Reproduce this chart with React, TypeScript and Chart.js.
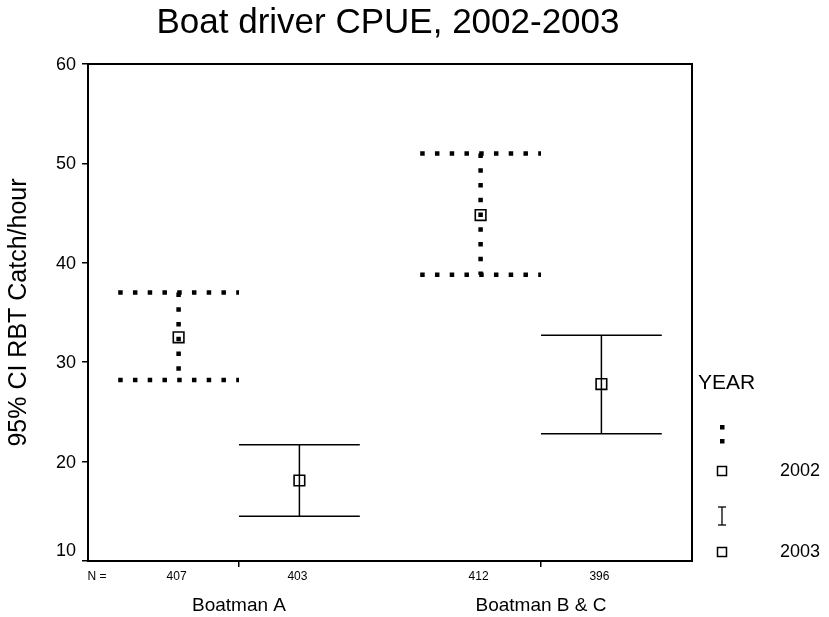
import React, { useEffect, useRef } from "react";
import { Chart, registerables } from "chart.js";
Chart.register(...registerables);

const titleText = "Boat driver CPUE, 2002-2003";
const yAxisTitle = "95% CI RBT Catch/hour";
const legendTitle = "YEAR";
const groups = ["Boatman A", "Boatman B & C"];
const groupCenters = [1, 3];
const years = ["2002", "2003"];
const barYear = [0, 1, 0, 1];
const xPositions = [0.6, 1.4, 2.6, 3.4];
const nCounts = [407, 403, 412, 396];
const means = [32.5, 18.1, 44.8, 27.8];
const lows = [28.2, 14.5, 38.8, 22.8];
const highs = [37.0, 21.7, 51.0, 32.7];
const capHalf = 0.4;
const yMin = 10;
const yMax = 60;
const yStep = 10;

const FONT = "'Liberation Sans', Arial, sans-serif";

function setStyle(ctx: CanvasRenderingContext2D, yearIdx: number) {
  if (yearIdx === 0) {
    ctx.setLineDash([4.5, 10.25]);
    ctx.lineWidth = 4.5;
  } else {
    ctx.setLineDash([]);
    ctx.lineWidth = 1.5;
  }
  ctx.lineCap = "butt";
  ctx.strokeStyle = "#000";
}

function seg(ctx: CanvasRenderingContext2D, x1: number, y1: number, x2: number, y2: number) {
  ctx.beginPath();
  ctx.moveTo(x1, y1);
  ctx.lineTo(x2, y2);
  ctx.stroke();
}

const decorPlugin = {
  id: "decor",
  beforeDatasetsDraw(chart: any) {
    const ctx: CanvasRenderingContext2D = chart.ctx;
    const xs = chart.scales.x;
    const ys = chart.scales.y;
    ctx.save();
    for (let i = 0; i < xPositions.length; i++) {
      const px = xs.getPixelForValue(xPositions[i]);
      const l = xs.getPixelForValue(xPositions[i] - capHalf);
      const r = xs.getPixelForValue(xPositions[i] + capHalf);
      const yh = ys.getPixelForValue(highs[i]);
      const yl = ys.getPixelForValue(lows[i]);
      setStyle(ctx, barYear[i]);
      seg(ctx, l, yh, r, yh);
      seg(ctx, l, yl, r, yl);
      seg(ctx, px, yh, px, yl);
    }
    ctx.restore();
  },
  afterDraw(chart: any) {
    const ctx: CanvasRenderingContext2D = chart.ctx;
    const a = chart.chartArea;
    const xs = chart.scales.x;
    const ys = chart.scales.y;
    ctx.save();
    // plot frame
    ctx.strokeStyle = "#000";
    ctx.lineWidth = 2;
    ctx.setLineDash([]);
    ctx.strokeRect(a.left, a.top, a.right - a.left, a.bottom - a.top);
    ctx.fillStyle = "#000";
    // y tick labels (lowest one lifted above the axis corner)
    ctx.font = `18px ${FONT}`;
    ctx.textAlign = "right";
    ctx.textBaseline = "middle";
    for (let v = yMin; v <= yMax; v += yStep) {
      const py = ys.getPixelForValue(v) + (v === yMin ? -10 : 1);
      ctx.fillText(String(v), a.left - 12, py);
    }
    // title
    ctx.font = `35px ${FONT}`;
    ctx.textAlign = "center";
    ctx.fillText(titleText, 388, 23);
    // N labels
    ctx.font = `12px ${FONT}`;
    ctx.fillText("N =", a.left + 9, a.bottom + 16);
    for (let i = 0; i < nCounts.length; i++) {
      ctx.fillText(String(nCounts[i]), xs.getPixelForValue(xPositions[i]) - 2, a.bottom + 16);
    }
    // legend
    const lx = a.right + 30;
    ctx.textAlign = "left";
    ctx.font = `21px ${FONT}`;
    ctx.fillText(legendTitle, a.right + 6, 383);
    ctx.font = `18px ${FONT}`;
    const rows = [
      { sym: 434, sq: 471 },
      { sym: 516, sq: 552 },
    ];
    for (let k = 0; k < years.length; k++) {
      const row = rows[k];
      if (k === 0) {
        ctx.fillRect(lx - 2, row.sym - 9, 4.5, 4.5);
        ctx.fillRect(lx - 2, row.sym + 5, 4.5, 4.5);
      } else {
        ctx.lineWidth = 1.3;
        seg(ctx, lx, row.sym - 9, lx, row.sym + 9);
        seg(ctx, lx - 4, row.sym - 9, lx + 4, row.sym - 9);
        seg(ctx, lx - 4, row.sym + 9, lx + 4, row.sym + 9);
      }
      ctx.lineWidth = 1.5;
      ctx.strokeRect(lx - 4.5, row.sq - 4.5, 9, 9);
      ctx.fillText(years[k], a.right + 88, row.sq);
    }
    ctx.restore();
  },
};

export default function App() {
  const ref = useRef<HTMLCanvasElement | null>(null);
  useEffect(() => {
    if (!ref.current) return;
    const chart = new Chart(ref.current, {
      type: "scatter",
      data: {
        datasets: [
          {
            label: "mean",
            data: xPositions.map((x, i) => ({ x, y: means[i] })),
            pointStyle: "rect",
            pointRadius: 7.5,
            pointBorderWidth: 1.6,
            pointBorderColor: "#000",
            pointBackgroundColor: "rgba(0,0,0,0)",
            showLine: false,
          },
        ],
      },
      options: {
        animation: false,
        responsive: false,
        devicePixelRatio: 1,
        layout: { padding: { left: 0, top: 64, right: 137, bottom: 0 } },
        plugins: {
          legend: { display: false },
          tooltip: { enabled: false },
          title: { display: false },
        },
        scales: {
          x: {
            type: "linear",
            min: 0,
            max: 4,
            afterBuildTicks: (scale: any) => {
              scale.ticks = groupCenters.map((v) => ({ value: v }));
            },
            afterFit: (scale: any) => {
              scale.height = 617 - 561;
            },
            ticks: {
              autoSkip: false,
              maxRotation: 0,
              padding: 27,
              color: "#000",
              font: { family: FONT, size: 19 },
              callback: (v: any) => groups[groupCenters.indexOf(Number(v))] ?? "",
            },
            grid: {
              drawOnChartArea: false,
              drawTicks: true,
              tickLength: 6,
              color: "#000",
              lineWidth: 1.5,
            },
            border: { display: true, color: "#000", width: 2 },
          },
          y: {
            min: yMin,
            max: yMax,
            afterFit: (scale: any) => {
              scale.width = 88;
            },
            ticks: {
              stepSize: yStep,
              display: false,
            },
            grid: {
              drawOnChartArea: false,
              drawTicks: true,
              tickLength: 6,
              color: "#000",
              lineWidth: 1.5,
            },
            border: { display: true, color: "#000", width: 2 },
            title: {
              display: true,
              text: yAxisTitle,
              color: "#000",
              font: { family: FONT, size: 25 },
              padding: { top: 4, bottom: 0 },
            },
          },
        },
      },
      plugins: [decorPlugin],
    });
    return () => chart.destroy();
  }, []);
  return (
    <div style={{ position: "fixed", left: 0, top: 0, width: 829, height: 617, background: "#fff" }}>
      <canvas ref={ref} width={829} height={617} style={{ width: 829, height: 617 }} />
    </div>
  );
}
